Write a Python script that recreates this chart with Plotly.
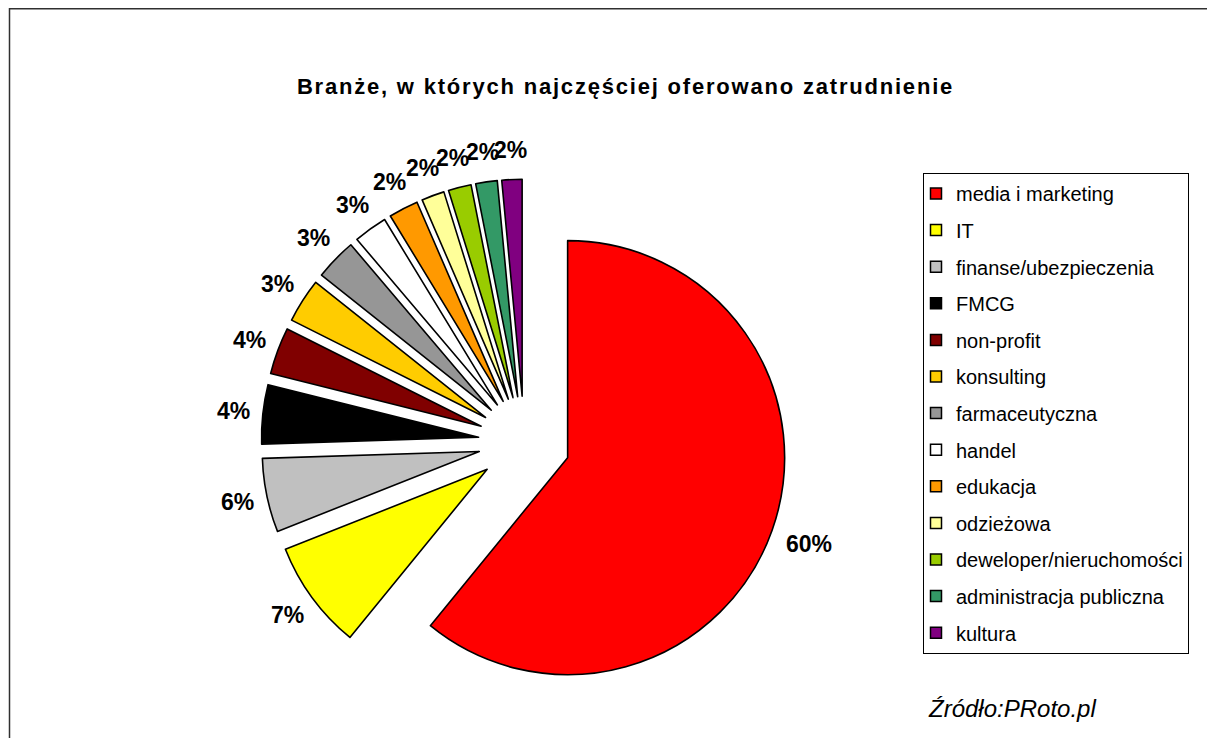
import math
import plotly.graph_objects as go

# ---------------- data ----------------
categories = [
    "media i marketing", "IT", "finanse/ubezpieczenia", "FMCG", "non-profit",
    "konsulting", "farmaceutyczna", "handel", "edukacja", "odzieżowa",
    "deweloper/nieruchomości", "administracja publiczna", "kultura",
]
# slice shares (%)
shares = [60.9, 8.1, 5.5, 4.4, 3.5, 3.3, 3.1, 2.5, 2.2, 1.7, 1.7, 1.6, 1.5]
# percentage labels as printed on the chart
label_texts = ["60%", "7%", "6%", "4%", "4%", "3%", "3%", "3%", "2%", "2%", "2%", "2%", "2%"]
colors = [
    "#FF0000", "#FFFF00", "#C0C0C0", "#000000", "#800000", "#FFCC00",
    "#969696", "#FFFFFF", "#FF9900", "#FFFF99", "#99CC00", "#339966", "#800080",
]
title_text = "Branże, w których najczęściej oferowano zatrudnienie"
source_text = "Źródło:PRoto.pl"

# ---------------- geometry / style ----------------
PAGE_W, PAGE_H = 1215, 738
OFF = 8                      # default page margin of the html body
W, H = PAGE_W - OFF, PAGE_H - OFF
FONT = "Liberation Sans, Arial, sans-serif"


def fx(px):
    return (px - OFF) / W


def fy(py):
    return 1 - (py - OFF) / H


CX, CY = 524.3, 442.2        # pie centre (page px)
BOX = 526.0                  # pie box size (px)
PULL = 0.212
R = BOX / (2 * (1 + PULL))   # radius plotly will use
LABEL_FS = 23

fig = go.Figure()

fig.add_trace(go.Pie(
    labels=categories,
    values=shares,
    sort=False,
    direction="clockwise",
    rotation=0,
    pull=[PULL] * len(shares),
    marker=dict(colors=colors, line=dict(color="black", width=1.6)),
    textinfo="none",
    hoverinfo="label+percent",
    showlegend=False,
    domain=dict(
        x=[fx(CX - BOX / 2), fx(CX + BOX / 2)],
        y=[fy(CY + BOX / 2), fy(CY - BOX / 2)],
    ),
))

# legend entries (one group per category so the spacing can be set)
for name, col in zip(categories, colors):
    fig.add_trace(go.Scatter(
        x=[None], y=[None], mode="markers", name=name, legendgroup=name,
        marker=dict(symbol="square", size=11, color=col,
                    line=dict(color="black", width=1.5)),
        hoverinfo="skip",
    ))

# percentage labels placed along each slice bisector
total = sum(shares)
cum = 0.0
annotations = []
for val, txt in zip(shares, label_texts):
    theta = math.radians(360.0 * (cum + val / 2) / total)
    cum += val
    tw = LABEL_FS * (0.556 * (len(txt) - 1) + 0.889)
    dist = R * (1 + PULL) + 5 + 0.75 * tw
    px = CX + dist * math.sin(theta)
    py = CY - dist * math.cos(theta)
    annotations.append(dict(
        x=fx(px), y=fy(py), xref="paper", yref="paper",
        text=txt, showarrow=False, xanchor="center", yanchor="middle",
        font=dict(family=FONT, size=LABEL_FS, color="black", weight="bold"),
    ))

annotations.append(dict(
    x=fx(926), y=fy(708), xref="paper", yref="paper",
    text=source_text, showarrow=False, xanchor="left", yanchor="middle",
    font=dict(family=FONT, size=24, color="black", style="italic"),
))

fig.update_layout(
    width=W, height=H,
    margin=dict(l=0, r=0, t=0, b=0),
    paper_bgcolor="white", plot_bgcolor="white",
    xaxis=dict(visible=False), yaxis=dict(visible=False),
    title=dict(
        text='<span style="letter-spacing:1.8px">' + title_text + "</span>",
        x=fx(625.5), xanchor="center", xref="paper",
        y=fy(86), yanchor="middle", yref="container",
        font=dict(family=FONT, size=22, color="black", weight="bold"),
    ),
    legend=dict(
        x=fx(923), y=fy(173), xanchor="left", yanchor="top",
        bordercolor="black", borderwidth=1, bgcolor="white",
        font=dict(family=FONT, size=20, color="black"),
        tracegroupgap=7.6, indentation=-8, traceorder="grouped",
    ),
    annotations=annotations,
    shapes=[dict(
        type="rect", xref="paper", yref="paper",
        x0=fx(9.5), x1=1.02, y0=-0.02, y1=fy(8.8),
        line=dict(color="#303030", width=1.5), fillcolor="rgba(0,0,0,0)",
        layer="below",
    )],
)

fig.write_html("out.html")
